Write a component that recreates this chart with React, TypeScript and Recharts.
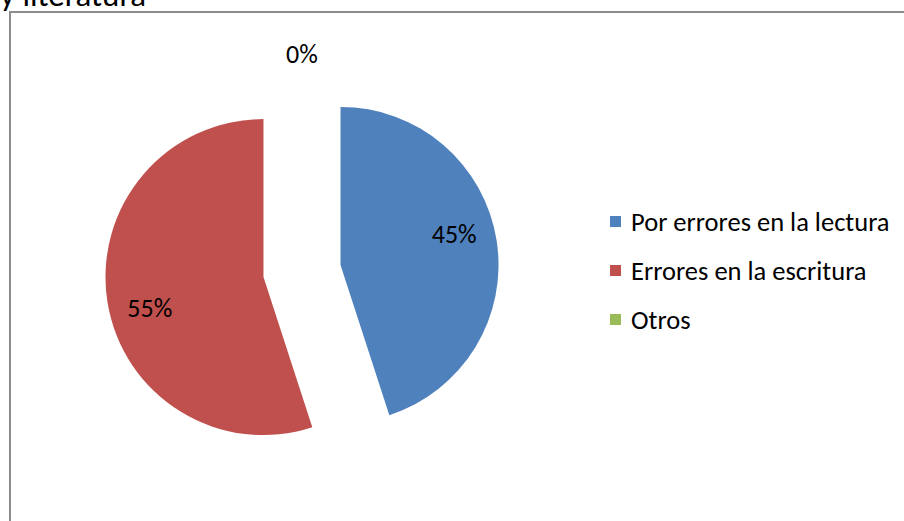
import React from "react";
import { PieChart, Pie, Cell, Sector, Legend } from "recharts";

const categories = ["Por errores en la lectura", "Errores en la escritura", "Otros"];
const values = [45, 55, 0];
const colors = ["#4F81BD", "#C0504D", "#9BBB59"];

const data = categories.map((name, i) => ({ name, value: values[i] }));

const RAD = Math.PI / 180;
const FONT = "Carlito, Calibri, Lato, sans-serif";
const EXPLODE = 39;

const ExplodedSector = (props: any) => {
  const { cx, cy, midAngle } = props;
  const dx = EXPLODE * Math.cos(-midAngle * RAD);
  const dy = EXPLODE * Math.sin(-midAngle * RAD);
  return <Sector {...props} cx={cx + dx} cy={cy + dy} />;
};

const renderLabel = (props: any) => {
  const { cx, cy, midAngle, outerRadius, percent } = props;
  let x: number;
  let y: number;
  if (!percent) {
    const r = outerRadius + 59;
    x = cx + r * Math.cos(-midAngle * RAD);
    y = cy + r * Math.sin(-midAngle * RAD);
  } else {
    const ex = cx + EXPLODE * Math.cos(-midAngle * RAD);
    const ey = cy + EXPLODE * Math.sin(-midAngle * RAD);
    const a = midAngle + 6;
    const r = outerRadius * 0.745;
    x = ex + r * Math.cos(-a * RAD);
    y = ey + r * Math.sin(-a * RAD);
  }
  return (
    <text
      x={x}
      y={y}
      textAnchor="middle"
      dominantBaseline="central"
      fill="#000"
      fontSize={26}
      fontFamily={FONT}
    >
      {`${Math.round((percent || 0) * 100)}%`}
    </text>
  );
};

const renderLegend = () => (
  <div style={{ fontFamily: FONT, fontSize: 26.5, color: "#000" }}>
    {categories.map((c, i) => (
      <div
        key={c}
        style={{ display: "flex", alignItems: "center", height: 49 }}
      >
        <span
          style={{
            width: 11,
            height: 11,
            background: colors[i],
            display: "inline-block",
            marginRight: 10,
            flexShrink: 0,
          }}
        />
        <span style={{ whiteSpace: "nowrap" }}>{c}</span>
      </div>
    ))}
  </div>
);

export default function App() {
  return (
    <div
      style={{
        position: "fixed",
        left: 0,
        top: 0,
        width: 904,
        height: 521,
        overflow: "hidden",
        background: "#fff",
      }}
    >
      <svg
        width={300}
        height={12}
        style={{ position: "absolute", left: 0, top: 0 }}
      >
        <text x={0} y={6} fontFamily={FONT} fontSize={33} fill="#000">
          y literatura
        </text>
      </svg>
      <div
        style={{
          position: "absolute",
          left: 9,
          top: 11,
          width: 1000,
          height: 600,
          borderLeft: "2px solid #8c8c8c",
          borderTop: "2px solid #8c8c8c",
        }}
      />
      <div style={{ position: "absolute", left: 0, top: 0 }}>
        <PieChart width={904} height={521}>
          <Pie
            data={data}
            dataKey="value"
            nameKey="name"
            cx={297}
            cy={266}
            outerRadius={158}
            startAngle={90}
            endAngle={-270}
            stroke="none"
            label={renderLabel}
            labelLine={false}
            shape={ExplodedSector}
            isAnimationActive={false}
          >
            {data.map((d, i) => (
              <Cell key={d.name} fill={colors[i]} />
            ))}
          </Pie>
          <Legend
            content={renderLegend}
            layout="vertical"
            wrapperStyle={{ position: "absolute", left: 610, top: 197, width: 300 }}
          />
        </PieChart>
      </div>
    </div>
  );
}
